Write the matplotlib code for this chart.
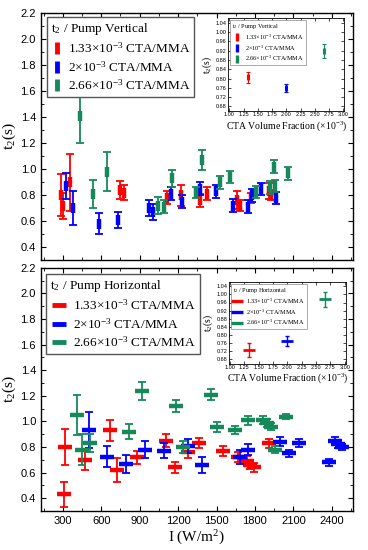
import matplotlib
matplotlib.use('Agg')
import matplotlib.pyplot as plt
from matplotlib.lines import Line2D
from matplotlib.ticker import MultipleLocator, FormatStrFormatter

RED = '#ff0000'
BLUE = '#0000ff'
GREEN = '#16895a'
SERIF = 'Liberation Serif'
SANS = 'Liberation Sans'

plt.rcParams['mathtext.fontset'] = 'custom'
plt.rcParams['mathtext.rm'] = SERIF
plt.rcParams['mathtext.it'] = SERIF + ':italic'
plt.rcParams['mathtext.default'] = 'rm'

labels = ['1.33$\\times$10$^{-3}$ CTA/MMA', '2$\\times$10$^{-3}$ CTA/MMA',
          '2.66$\\times$10$^{-3}$ CTA/MMA']

# pump vertical, intensity (W/m2), t2 (s), error
v_red_I = [285, 300, 355, 747, 780, 1112, 1222, 1368, 1425, 1660, 1680, 1770, 1908, 1925]
v_red_t = [0.80, 0.72, 0.90, 0.84, 0.82, 0.78, 0.80, 0.76, 0.81, 0.76, 0.72, 0.78, 0.83, 0.80]
v_red_e = [0.16, 0.10, 0.22, 0.07, 0.06, 0.05, 0.08, 0.05, 0.05, 0.07, 0.04, 0.04, 0.06, 0.04]

v_blue_I = [324, 381, 585, 733, 976, 1003, 1143, 1228, 1368, 1498, 1626, 1746, 1778, 1848, 1968]
v_blue_t = [0.87, 0.70, 0.58, 0.61, 0.70, 0.67, 0.81, 0.75, 0.85, 0.83, 0.72, 0.71, 0.80, 0.85, 0.78]
v_blue_e = [0.10, 0.13, 0.08, 0.06, 0.06, 0.06, 0.05, 0.05, 0.05, 0.05, 0.05, 0.05, 0.05, 0.045, 0.045]

v_green_I = [433, 533, 642, 1039, 1086, 1151, 1342, 1386, 1529, 1608, 1811, 1920, 1947, 1955, 2056]
v_green_t = [1.41, 0.81, 0.98, 0.72, 0.71, 0.93, 0.82, 1.07, 0.90, 0.94, 0.825, 0.86, 1.02, 0.87, 0.97]
v_green_e = [0.21, 0.11, 0.15, 0.065, 0.05, 0.065, 0.045, 0.08, 0.05, 0.045, 0.045, 0.05, 0.05, 0.045, 0.05]

# pump horizontal
h_red_I = [308, 316, 472, 668, 720, 882, 1104, 1177, 1277, 1365, 1548, 1665, 1738, 1764, 1790, 1908]
h_red_t = [0.43, 0.80, 0.70, 0.93, 0.62, 0.72, 0.85, 0.64, 0.76, 0.83, 0.77, 0.72, 0.69, 0.66, 0.64, 0.83]
h_red_e = [0.10, 0.14, 0.08, 0.08, 0.09, 0.05, 0.05, 0.04, 0.045, 0.04, 0.04, 0.04, 0.04, 0.035, 0.035, 0.035]

h_blue_I = [506, 642, 794, 942, 1091, 1281, 1386, 1686, 1743, 1999, 2067, 2143, 2378, 2422, 2448, 2482]
h_blue_t = [0.93, 0.725, 0.67, 0.78, 0.77, 0.81, 0.66, 0.72, 0.78, 0.84, 0.75, 0.83, 0.68, 0.845, 0.82, 0.80]
h_blue_e = [0.14, 0.08, 0.07, 0.07, 0.06, 0.055, 0.06, 0.055, 0.04, 0.035, 0.03, 0.03, 0.025, 0.03, 0.03, 0.025]

h_green_I = [412, 446, 512, 820, 916, 1183, 1237, 1459, 1503, 1641, 1746, 1861, 1895, 1926, 1960, 2046]
h_green_t = [1.05, 0.78, 0.83, 0.92, 1.24, 1.12, 0.80, 1.21, 0.956, 0.935, 1.01, 1.01, 0.99, 0.96, 0.78, 1.035]
h_green_e = [0.16, 0.12, 0.07, 0.06, 0.07, 0.05, 0.045, 0.045, 0.04, 0.03, 0.035, 0.03, 0.03, 0.03, 0.025, 0.02]

# insets: average t2 vs CTA volume fraction (x10^-3)
cta = [1.33, 2.0, 2.66]
v_avg = [0.805, 0.76, 0.92]
v_avg_e = [0.025, 0.018, 0.03]
h_avg = [0.725, 0.769, 0.975]
h_avg_e = [0.035, 0.024, 0.035]

colors = [RED, BLUE, GREEN]


def style_axes(ax, fs):
    ax.tick_params(which='both', direction='in', top=True, right=True, labelsize=fs)
    for lab in ax.get_xticklabels() + ax.get_yticklabels():
        lab.set_fontfamily(SANS)
    for s in ax.spines.values():
        s.set_linewidth(1.0)


fig = plt.figure(figsize=(3.68, 5.5), dpi=100)
ax1 = fig.add_axes([0.111, 0.527, 0.848, 0.449])
ax2 = fig.add_axes([0.111, 0.071, 0.848, 0.442])

top_sets = [(v_red_I, v_red_t, v_red_e), (v_blue_I, v_blue_t, v_blue_e),
            (v_green_I, v_green_t, v_green_e)]
bot_sets = [(h_red_I, h_red_t, h_red_e), (h_blue_I, h_blue_t, h_blue_e),
            (h_green_I, h_green_t, h_green_e)]

for (x, y, e), c in zip(top_sets, colors):
    ax1.errorbar(x, y, yerr=e, fmt='none', ecolor=c, elinewidth=1.3, capsize=2.6, capthick=1.3)
    ax1.plot(x, y, ls='none', marker='|', ms=7.5, mew=3.2, color=c)

for (x, y, e), c in zip(bot_sets, colors):
    ax2.errorbar(x, y, yerr=e, fmt='none', ecolor=c, elinewidth=1.3, capsize=2.6, capthick=1.3)
    ax2.plot(x, y, ls='none', marker='_', ms=9.5, mew=3.2, color=c)

for ax in (ax1, ax2):
    ax.set_xlim(128, 2565)
    ax.set_ylim(0.3, 2.2)
    ax.xaxis.set_major_locator(MultipleLocator(300))
    ax.xaxis.set_minor_locator(MultipleLocator(150))
    ax.yaxis.set_major_locator(MultipleLocator(0.2))
    ax.yaxis.set_minor_locator(MultipleLocator(0.1))
    ax.yaxis.set_major_formatter(FormatStrFormatter('%.1f'))
    ax.set_ylabel('t$_2$(s)', fontfamily=SERIF, fontsize=11, labelpad=2)
    style_axes(ax, 8)

ax1.tick_params(labelbottom=False)
ax2.set_xlabel('I (W/m$^2$)', fontfamily=SERIF, fontsize=11, labelpad=2)

h_top = [Line2D([], [], ls='none', marker='|', ms=9, mew=3.5, color=c) for c in colors]
h_bot = [Line2D([], [], ls='none', marker='_', ms=10, mew=3.5, color=c) for c in colors]

leg1 = ax1.legend(h_top, labels, title='t$_2$ / Pump Vertical', loc='upper left',
                  bbox_to_anchor=(0.012, 0.995), prop={'family': SERIF, 'size': 9.5},
                  title_fontproperties={'family': SERIF, 'size': 9.5}, alignment='left',
                  fancybox=False, edgecolor='#555555', framealpha=1, handlelength=0.9,
                  handletextpad=0.35, borderpad=0.3, labelspacing=0.3, borderaxespad=0.2)
leg1.get_frame().set_linewidth(1.0)
leg2 = ax2.legend(h_bot, labels, title='t$_2$ / Pump Horizontal', loc='upper left',
                  bbox_to_anchor=(0.008, 0.985), prop={'family': SERIF, 'size': 9.5},
                  title_fontproperties={'family': SERIF, 'size': 9.5}, alignment='left',
                  fancybox=False, edgecolor='#555555', framealpha=1, handlelength=1.4,
                  handletextpad=0.35, borderpad=0.3, labelspacing=0.3, borderaxespad=0.2)
leg2.get_frame().set_linewidth(1.0)

# insets
in1 = fig.add_axes([0.620, 0.798, 0.316, 0.169])
in2 = fig.add_axes([0.622, 0.339, 0.318, 0.148])

for i, c in enumerate(colors):
    in1.errorbar(cta[i], v_avg[i], yerr=v_avg_e[i], fmt='none', ecolor=c, elinewidth=0.8,
                 capsize=1.3, capthick=0.8)
    in1.plot(cta[i], v_avg[i], ls='none', marker='|', ms=5, mew=2.2, color=c)
    in2.errorbar(cta[i], h_avg[i], yerr=h_avg_e[i], fmt='none', ecolor=c, elinewidth=1.0,
                 capsize=1.5, capthick=1.0)
    in2.plot(cta[i], h_avg[i], ls='none', marker='_', ms=8, mew=2.0, color=c)

for ax in (in1, in2):
    ax.set_xlim(0.98, 3.02)
    ax.set_ylim(0.66, 1.06)
    ax.xaxis.set_major_locator(MultipleLocator(0.25))
    ax.yaxis.set_major_locator(MultipleLocator(0.04))
    ax.xaxis.set_major_formatter(FormatStrFormatter('%.2f'))
    ax.yaxis.set_major_formatter(FormatStrFormatter('%.2f'))
    ax.set_xlabel('CTA Volume Fraction ($\\times$10$^{-3}$)', fontfamily=SERIF, fontsize=7,
                  labelpad=1)
    ax.set_ylabel('t$_2$(s)', fontfamily=SERIF, fontsize=7, labelpad=1)
    ax.tick_params(which='both', direction='in', top=True, right=True, labelsize=4,
                   length=2, width=0.5, pad=1)
    for lab in ax.get_xticklabels() + ax.get_yticklabels():
        lab.set_fontfamily(SANS)
    for s in ax.spines.values():
        s.set_linewidth(0.6)

hi1 = [Line2D([], [], ls='none', marker='|', ms=6, mew=2.4, color=c) for c in colors]
hi2 = [Line2D([], [], ls='none', marker='_', ms=8, mew=2.4, color=c) for c in colors]
for ax, hh, t in ((in1, hi1, 't$_2$ / Pump Vertical'), (in2, hi2, 't$_2$ / Pump Horizontal')):
    lg = ax.legend(hh, labels, title=t, loc='upper left', prop={'family': SERIF, 'size': 4.5},
                   title_fontproperties={'family': SERIF, 'size': 4.5}, alignment='left',
                   fancybox=False, edgecolor='#888888', framealpha=1, handlelength=1.5,
                   handletextpad=0.6, borderpad=0.3, labelspacing=0.25, borderaxespad=0.3)
    lg.get_frame().set_linewidth(0.5)

fig.savefig('out.png', dpi=100)
